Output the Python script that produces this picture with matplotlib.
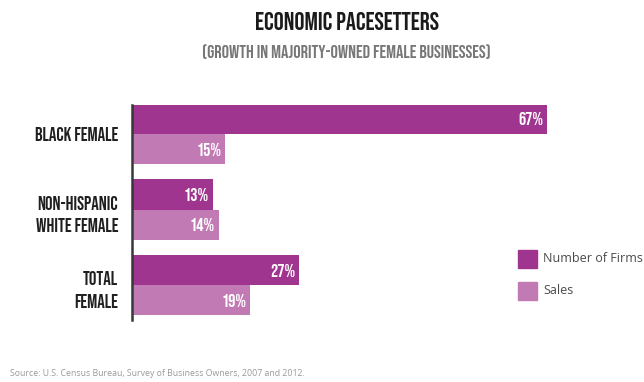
import numpy as np
import matplotlib.pyplot as plt
from matplotlib.patches import Rectangle

groups = ["BLACK FEMALE", "NON-HISPANIC\nWHITE FEMALE", "TOTAL\nFEMALE"]
firms = [67, 13, 27]
sales = [15, 14, 19]

firm_color = "#A0358F"
sales_color = "#C27AB4"
cond = ["Bebas Neue", "DejaVu Sans"]

fig = plt.figure(figsize=(6.44, 3.82), dpi=100)
ax = fig.add_axes([132/644, 62/382, 496/644, 215/382])

pos = np.arange(len(groups))
h = 0.4
ax.barh(pos - h/2, firms, height=h, color=firm_color, edgecolor="none")
ax.barh(pos + h/2, sales, height=h, color=sales_color, edgecolor="none")

for p, v in zip(pos, firms):
    ax.text(v - 0.6, p - h/2, f"{v}%", color="white", ha="right", va="center",
            fontsize=13, family=cond)
for p, v in zip(pos, sales):
    ax.text(v - 0.6, p + h/2, f"{v}%", color="white", ha="right", va="center",
            fontsize=13, family=cond)

ax.set_xlim(0, 80)
ax.set_ylim(2.46, -0.384)
ax.set_yticks(pos)
ax.set_yticklabels(groups, fontsize=13.5, family=cond,
                   color="#1f1f1f", ha="right", linespacing=1.6)
ax.tick_params(axis="y", length=0, pad=10)
ax.set_xticks([])
for s in ["top", "right", "bottom"]:
    ax.spines[s].set_visible(False)
ax.spines["left"].set_color("#383838")
ax.spines["left"].set_linewidth(1.8)

# legend squares drawn in figure coordinates
for y0, c, lab in [(259, firm_color, "Number of Firms"), (291, sales_color, "Sales")]:
    fig.patches.append(Rectangle((518/644, (382 - y0 - 9)/382), 19/644, 18/382,
                                 transform=fig.transFigure, color=c))
    fig.text(543/644, (382 - y0)/382, lab, fontsize=9, color="#4a4a4a",
             va="center", ha="left", family="Open Sans")

fig.text(347/644, 1 - 21.5/382, "ECONOMIC PACESETTERS", ha="center", va="center",
         fontsize=18, family=cond, color="#1a1a1a")
fig.text(346/644, 1 - 51.5/382, "(GROWTH IN MAJORITY-OWNED FEMALE BUSINESSES)",
         ha="center", va="center", fontsize=13.2, family=cond, color="#777777")
fig.text(10/644, 1 - 373/382, "Source: U.S. Census Bureau, Survey of Business Owners, 2007 and 2012.",
         ha="left", va="center", fontsize=6.3, color="#999999", family="Open Sans")

fig.savefig("out.png", dpi=100)
